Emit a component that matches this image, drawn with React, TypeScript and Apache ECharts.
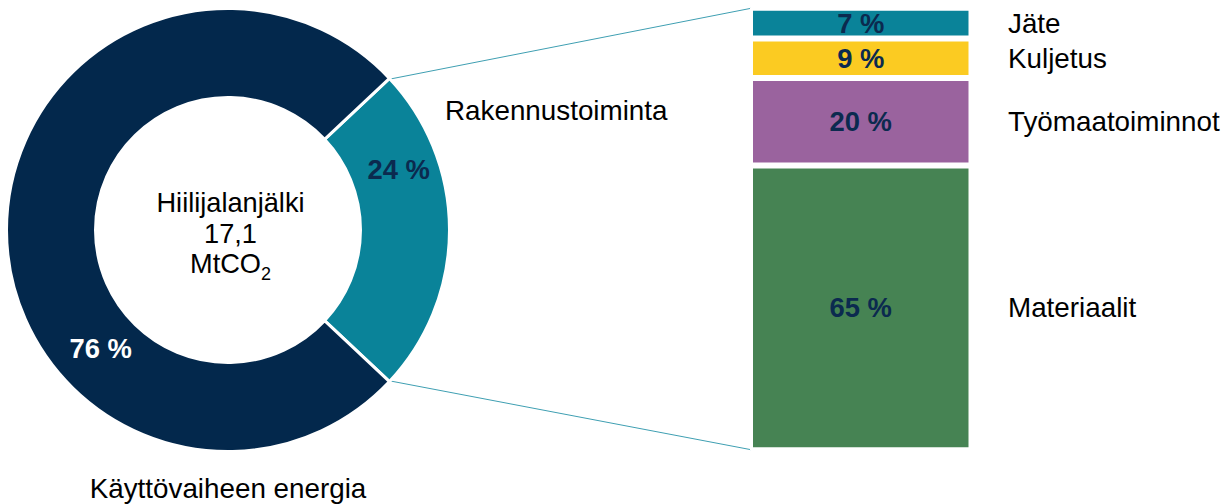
import React, { useEffect, useRef } from "react";
import * as echarts from "echarts";

// ---- data ----
const pieCategories = ["Rakennustoiminta", "Käyttövaiheen energia"];
const pieValues = [24, 76];
const centerTitle = "Hiilijalanjälki";
const centerValue = "17,1";
const centerUnit = "MtCO";
const centerUnitSub = "2";

// stacked bar, bottom to top
const barCategories = ["Materiaalit", "Työmaatoiminnot", "Kuljetus", "Jäte"];
const barValues = [65, 20, 9, 7];

// ---- styles ----
const pieColors = ["#0a8399", "#03284c"];
const pieLabelColors = ["#0b2a4f", "#ffffff"];
const barColors = ["#468353", "#9a639e", "#fbcb22", "#0a8399"];
const FONT = '"Liberation Sans", Arial, Helvetica, sans-serif';
const FS = 27.8;
const FS_BOLD = 27.4;
const FS_CENTER = 27.2;
const CX = 228;
const CY = 230;
const R_IN = 132.5;
const R_OUT = 221.5;
const GRID_LEFT = 750;
const GRID_TOP = 7.8;
const GRID_W = 221.5;
const GRID_H = 442.4;
// label positions of pie percentages (polar: angle deg, radius px)
const pieLabelPolar = [
  [19.5, 181],
  [223, 174],
];

export default function App() {
  const ref = useRef<HTMLDivElement>(null);

  useEffect(() => {
    document.body.style.margin = "0";
    const chart = echarts.init(ref.current!, undefined, { renderer: "svg" });
    const pieTotal = pieValues.reduce((a, b) => a + b, 0);
    const barTotal = barValues.reduce((a, b) => a + b, 0);
    const startAngle = (pieValues[0] / pieTotal) * 360 / 2;

    const labelPos = pieLabelPolar.map(([a, r]) => [
      CX + r * Math.cos((a * Math.PI) / 180),
      CY - r * Math.sin((a * Math.PI) / 180),
    ]);

    chart.setOption({
      animation: false,
      grid: { left: GRID_LEFT, top: GRID_TOP, width: GRID_W, height: GRID_H },
      xAxis: { type: "category", data: ["Rakennustoiminta"], show: false },
      yAxis: { type: "value", min: 0, max: barTotal, show: false },
      series: [
        {
          type: "pie",
          center: [CX, CY],
          radius: [R_IN, R_OUT],
          startAngle,
          clockwise: true,
          silent: true,
          itemStyle: { borderColor: "#ffffff", borderWidth: 3 },
          label: {
            show: true,
            position: "inside",
            formatter: "{c} %",
            fontFamily: FONT,
            fontSize: FS_BOLD,
            fontWeight: "bold",
          },
          labelLine: { show: false },
          labelLayout: (p: any) => ({
            x: labelPos[p.dataIndex][0],
            y: labelPos[p.dataIndex][1],
            align: "center",
            verticalAlign: "middle",
          }),
          data: pieCategories.map((name, i) => ({
            name,
            value: pieValues[i],
            itemStyle: { color: pieColors[i] },
            label: { color: pieLabelColors[i] },
          })),
        },
        ...barCategories.map((name, i) => ({
          type: "bar",
          name,
          stack: "total",
          barWidth: "100%",
          silent: true,
          data: [barValues[i]],
          itemStyle: { color: barColors[i], borderColor: "#ffffff", borderWidth: 3 },
          label: {
            show: true,
            position: "inside",
            formatter: "{c} %",
            fontFamily: FONT,
            fontSize: FS_BOLD,
            fontWeight: "bold",
            color: "#0b2a4f",
          },
        })),
      ],
    });

    // derived annotation positions
    const rad = (startAngle * Math.PI) / 180;
    const rEdge = R_OUT - 1.5;
    const pTop = [CX + rEdge * Math.cos(rad), CY - rEdge * Math.sin(rad)];
    const pBot = [CX + rEdge * Math.cos(rad), CY + rEdge * Math.sin(rad)];
    const barTopLeft = chart.convertToPixel({ gridIndex: 0 }, [0, barTotal]) as number[];
    const barBotLeft = chart.convertToPixel({ gridIndex: 0 }, [0, 0]) as number[];
    const barLeftX = GRID_LEFT + 1;

    let cum = 0;
    const nameTexts = barCategories.map((name, i) => {
      const mid = cum + barValues[i] / 2;
      cum += barValues[i];
      const y = (chart.convertToPixel({ gridIndex: 0 }, [0, mid]) as number[])[1];
      return {
        type: "text",
        x: 1008,
        y,
        style: {
          text: name,
          fontFamily: FONT,
          fontSize: FS,
          fill: "#000000",
          align: "left",
          verticalAlign: "middle",
        },
      };
    });

    chart.setOption({
      graphic: [
        {
          type: "line",
          shape: { x1: pTop[0], y1: pTop[1], x2: barLeftX, y2: barTopLeft[1] + 0.5 },
          style: { stroke: "#3f9fb2", lineWidth: 1 },
          silent: true,
        },
        {
          type: "line",
          shape: { x1: pBot[0], y1: pBot[1], x2: barLeftX, y2: barBotLeft[1] - 0.5 },
          style: { stroke: "#3f9fb2", lineWidth: 1 },
          silent: true,
        },
        {
          type: "text",
          x: 445,
          y: 110,
          style: {
            text: pieCategories[0],
            fontFamily: FONT,
            fontSize: FS,
            fill: "#000000",
            align: "left",
            verticalAlign: "middle",
          },
        },
        {
          type: "text",
          x: 228,
          y: 488,
          style: {
            text: pieCategories[1],
            fontFamily: FONT,
            fontSize: FS,
            fill: "#000000",
            align: "center",
            verticalAlign: "middle",
          },
        },
        {
          type: "text",
          x: 230.5,
          y: 233,
          style: {
            text: `{a|${centerTitle}}\n{a|${centerValue}}\n{a|${centerUnit}}{s|${centerUnitSub}}`,
            fontFamily: FONT,
            align: "center",
            verticalAlign: "middle",
            rich: {
              a: { fontFamily: FONT, fontSize: FS_CENTER, lineHeight: 30.5, fill: "#000000" },
              s: {
                fontFamily: FONT,
                fontSize: 18,
                lineHeight: 18,
                verticalAlign: "bottom",
                fill: "#000000",
                padding: [0, 0, -4, 0],
              },
            },
          },
        },
        ...nameTexts,
      ],
    });

    return () => chart.dispose();
  }, []);

  return <div ref={ref} style={{ width: 1230, height: 504 }} />;
}
